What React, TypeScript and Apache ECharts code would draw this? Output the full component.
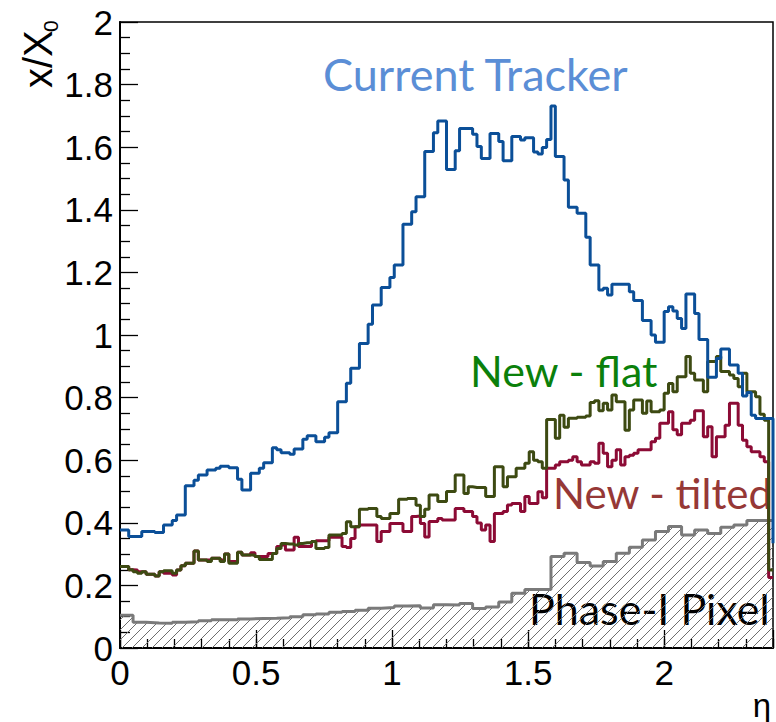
import React, { useEffect, useRef } from "react";
import * as echarts from "echarts";

// Material budget (x/X0) versus pseudorapidity, histograms over 0 < eta < 2.4
const ETA_MAX = 2.4;
const FINE_BIN = 0.016; // 150 bins
const PIXEL_BIN = 0.048; // 50 bins

const xTickLabels = ["0", "0.5", "1", "1.5", "2"];

const currentTracker = [
  0.377, 0.377, 0.356, 0.356, 0.356, 0.372, 0.372, 0.372, 0.369, 0.369,
  0.393, 0.393, 0.407, 0.425, 0.425, 0.518, 0.518, 0.536, 0.553, 0.553,
  0.569, 0.569, 0.574, 0.581, 0.581, 0.576, 0.576, 0.539, 0.505, 0.505,
  0.558, 0.558, 0.574, 0.592, 0.592, 0.64, 0.633, 0.624, 0.624, 0.619,
  0.636, 0.636, 0.667, 0.678, 0.678, 0.659, 0.659, 0.673, 0.688, 0.688,
  0.787, 0.787, 0.846, 0.894, 0.894, 0.973, 0.973, 1.034, 1.096, 1.096,
  1.152, 1.152, 1.184, 1.224, 1.224, 1.354, 1.354, 1.394, 1.442, 1.442,
  1.586, 1.586, 1.646, 1.684, 1.684, 1.529, 1.529, 1.589, 1.66, 1.66,
  1.66, 1.641, 1.602, 1.564, 1.564, 1.644, 1.644, 1.618, 1.557, 1.557,
  1.634, 1.634, 1.623, 1.63, 1.63, 1.585, 1.578, 1.599, 1.625, 1.732,
  1.57, 1.57, 1.495, 1.408, 1.408, 1.389, 1.389, 1.312, 1.224, 1.224,
  1.144, 1.149, 1.128, 1.162, 1.162, 1.162, 1.162, 1.138, 1.11, 1.11,
  1.046, 1.046, 1.0, 0.977, 0.977, 1.075, 1.09, 1.077, 1.053, 1.021,
  1.131, 1.131, 1.069, 0.986, 0.986, 0.865, 0.865, 0.925, 0.955, 0.955,
  0.904, 0.904, 0.878, 0.805, 0.816, 0.744, 0.733, 0.733, 0.733, 0.733,
];
// level of the next bin, seen as the drop at the right edge of the frame
const currentTrackerEdge = 0.335;

const newFlat = [
  0.26, 0.26, 0.25, 0.244, 0.239, 0.244, 0.236, 0.236, 0.23, 0.244,
  0.247, 0.247, 0.239, 0.249, 0.263, 0.271, 0.271, 0.31, 0.281, 0.281,
  0.276, 0.287, 0.287, 0.276, 0.3, 0.271, 0.271, 0.306, 0.297, 0.297,
  0.297, 0.292, 0.283, 0.283, 0.283, 0.302, 0.318, 0.334, 0.332, 0.332,
  0.329, 0.334, 0.336, 0.336, 0.34, 0.318, 0.318, 0.321, 0.361, 0.361,
  0.361, 0.366, 0.403, 0.387, 0.387, 0.443, 0.443, 0.446, 0.446, 0.42,
  0.414, 0.414, 0.43, 0.43, 0.475, 0.475, 0.478, 0.478, 0.456, 0.42,
  0.443, 0.489, 0.489, 0.468, 0.468, 0.5, 0.5, 0.553, 0.553, 0.494,
  0.515, 0.513, 0.513, 0.513, 0.484, 0.484, 0.579, 0.579, 0.515, 0.547,
  0.547, 0.574, 0.574, 0.59, 0.627, 0.6, 0.595, 0.574, 0.73, 0.73,
  0.67, 0.744, 0.705, 0.734, 0.734, 0.737, 0.737, 0.741, 0.784, 0.79,
  0.758, 0.782, 0.76, 0.808, 0.787, 0.787, 0.696, 0.76, 0.792, 0.792,
  0.75, 0.789, 0.755, 0.755, 0.76, 0.814, 0.845, 0.819, 0.867, 0.867,
  0.931, 0.878, 0.856, 0.856, 0.819, 0.915, 0.915, 0.931, 0.883, 0.883,
  0.872, 0.861, 0.835, 0.878, 0.819, 0.819, 0.803, 0.747, 0.728, 0.249,
];

const newTilted = [
  0.26, 0.26, 0.25, 0.249, 0.244, 0.244, 0.236, 0.236, 0.23, 0.244,
  0.239, 0.239, 0.233, 0.249, 0.263, 0.271, 0.271, 0.31, 0.281, 0.281,
  0.281, 0.287, 0.287, 0.281, 0.3, 0.276, 0.276, 0.306, 0.297, 0.297,
  0.304, 0.292, 0.292, 0.292, 0.302, 0.302, 0.324, 0.329, 0.313, 0.313,
  0.354, 0.324, 0.324, 0.324, 0.34, 0.343, 0.343, 0.343, 0.354, 0.354,
  0.354, 0.324, 0.321, 0.35, 0.387, 0.393, 0.393, 0.393, 0.393, 0.34,
  0.372, 0.372, 0.398, 0.398, 0.398, 0.372, 0.372, 0.42, 0.422, 0.398,
  0.355, 0.404, 0.404, 0.414, 0.409, 0.409, 0.409, 0.446, 0.446, 0.436,
  0.436, 0.42, 0.399, 0.377, 0.393, 0.34, 0.43, 0.43, 0.436, 0.457,
  0.462, 0.462, 0.436, 0.484, 0.462, 0.462, 0.499, 0.48, 0.574, 0.574,
  0.585, 0.595, 0.595, 0.6, 0.611, 0.595, 0.585, 0.585, 0.595, 0.59,
  0.654, 0.622, 0.579, 0.6, 0.633, 0.585, 0.611, 0.616, 0.622, 0.633,
  0.633, 0.633, 0.659, 0.67, 0.718, 0.718, 0.755, 0.697, 0.681, 0.718,
  0.718, 0.728, 0.758, 0.758, 0.675, 0.707, 0.611, 0.675, 0.675, 0.712,
  0.782, 0.782, 0.712, 0.664, 0.643, 0.627, 0.627, 0.611, 0.595, 0.225,
];

const phase1Pixel = [
  0.105, 0.082, 0.08, 0.079, 0.082, 0.084, 0.087, 0.09, 0.09, 0.093,
  0.094, 0.095, 0.097, 0.1, 0.106, 0.109, 0.114, 0.117, 0.121, 0.127,
  0.129, 0.134, 0.135, 0.128, 0.138, 0.137, 0.142, 0.126, 0.131, 0.147,
  0.175, 0.187, 0.187, 0.292, 0.303, 0.273, 0.262, 0.276, 0.303, 0.322,
  0.345, 0.372, 0.388, 0.361, 0.377, 0.366, 0.386, 0.393, 0.407, 0.407,
];

// Histogram contents -> step-line points at lower bin edges, closed at eta max
function histPoints(values: number[], width: number, endValue?: number) {
  const pts: number[][] = values.map((v, i) => [Number((i * width).toFixed(4)), v]);
  pts.push([ETA_MAX, endValue ?? values[values.length - 1]]);
  return pts;
}

function hatchPattern() {
  const size = 10;
  const c = document.createElement("canvas");
  c.width = size;
  c.height = size;
  const ctx = c.getContext("2d");
  if (ctx) {
    ctx.strokeStyle = "#6e6e6e";
    ctx.lineWidth = 1;
    ctx.beginPath();
    ctx.moveTo(-1, size + 1);
    ctx.lineTo(size + 1, -1);
    ctx.moveTo(-1, 1);
    ctx.lineTo(1, -1);
    ctx.moveTo(size - 1, size + 1);
    ctx.lineTo(size + 1, size - 1);
    ctx.stroke();
  }
  return { image: c, repeat: "repeat", imageWidth: size, imageHeight: size };
}

const AXIS_FONT = "Liberation Sans";
const NOTE_FONT = "Lato";

export default function App() {
  const ref = useRef<HTMLDivElement>(null);

  useEffect(() => {
    if (!ref.current) return;
    const chart = echarts.init(ref.current, undefined, { renderer: "svg" });
    const tickLine = { color: "#000", width: 1.3 };
    const stepLine = (name: string, data: number[][], color: string, z: number) => ({
      name,
      type: "line",
      step: "end",
      data,
      symbol: "none",
      z,
      lineStyle: { color, width: 3 },
    });

    chart.setOption({
      animation: false,
      backgroundColor: "#fff",
      grid: {
        left: 120,
        top: 22,
        right: 3,
        bottom: 74,
        show: true,
        borderColor: "#000",
        borderWidth: 1.5,
      },
      xAxis: [
        {
          type: "value",
          min: 0,
          max: ETA_MAX,
          interval: 0.5,
          position: "bottom",
          axisLine: { show: true, onZero: false, lineStyle: { color: "#000", width: 2 } },
          axisTick: { show: true, inside: true, length: 18, lineStyle: tickLine },
          axisLabel: {
            show: true,
            color: "#000",
            fontFamily: AXIS_FONT,
            fontSize: 35,
            margin: 7,
            formatter: (v: number) => {
              const k = Math.round(v / 0.5);
              return Math.abs(v - k * 0.5) < 1e-6 && k < xTickLabels.length ? xTickLabels[k] : "";
            },
          },
          splitLine: { show: false },
        },
        {
          type: "value",
          min: 0,
          max: ETA_MAX,
          interval: 0.1,
          position: "bottom",
          axisLine: { show: false },
          axisTick: { show: true, inside: true, length: 9, lineStyle: tickLine },
          axisLabel: { show: false },
          splitLine: { show: false },
        },
      ],
      yAxis: {
        type: "value",
        min: 0,
        max: 2,
        interval: 0.2,
        axisLine: { show: true, onZero: false, lineStyle: { color: "#000", width: 2 } },
        axisTick: { show: true, inside: true, length: 18, lineStyle: tickLine },
        minorTick: { show: true, splitNumber: 4, length: 10, lineStyle: tickLine },
        axisLabel: { color: "#000", fontFamily: AXIS_FONT, fontSize: 35, margin: 7 },
        splitLine: { show: false },
      },
      series: [
        {
          ...stepLine("Phase-I Pixel", histPoints(phase1Pixel, PIXEL_BIN), "#7a7a7a", 1),
          areaStyle: { color: hatchPattern(), opacity: 1 },
        },
        stepLine("New - tilted", histPoints(newTilted, FINE_BIN), "#8c0b35", 2),
        stepLine("New - flat", histPoints(newFlat, FINE_BIN), "#3d4a12", 3),
        stepLine("Current Tracker", histPoints(currentTracker, FINE_BIN, currentTrackerEdge), "#0b4f98", 4),
      ],
      graphic: [
        {
          type: "text",
          x: 58,
          y: 88,
          rotation: Math.PI / 2,
          style: { text: "x/X", font: `40px "${AXIS_FONT}"`, fill: "#000", align: "left", verticalAlign: "bottom" },
        },
        {
          type: "text",
          x: 61,
          y: 32,
          rotation: Math.PI / 2,
          style: { text: "0", font: `21px "${AXIS_FONT}"`, fill: "#000", align: "left", verticalAlign: "bottom" },
        },
        {
          type: "text",
          x: 771,
          y: 705,
          style: { text: "η", font: `33px "${AXIS_FONT}"`, fill: "#000", align: "right", verticalAlign: "middle" },
        },
        {
          type: "text",
          x: 323,
          y: 74,
          style: { text: "Current Tracker", font: `45px "${NOTE_FONT}"`, fill: "#5b8ed6", align: "left", verticalAlign: "middle" },
        },
        {
          type: "text",
          x: 470,
          y: 370,
          style: { text: "New - flat", font: `43px "${NOTE_FONT}"`, fill: "#0b800b", align: "left", verticalAlign: "middle" },
        },
        {
          type: "text",
          x: 553,
          y: 493,
          style: { text: "New - tilted", font: `42px "${NOTE_FONT}"`, fill: "#963836", align: "left", verticalAlign: "middle" },
        },
        {
          type: "text",
          x: 529,
          y: 608,
          style: { text: "Phase-I Pixel", font: `43px "${NOTE_FONT}"`, fill: "#000", align: "left", verticalAlign: "middle" },
        },
      ],
    });
    return () => chart.dispose();
  }, []);

  return (
    <div
      ref={ref}
      style={{ position: "fixed", left: 0, top: 0, width: 776, height: 722, background: "#fff" }}
    />
  );
}
